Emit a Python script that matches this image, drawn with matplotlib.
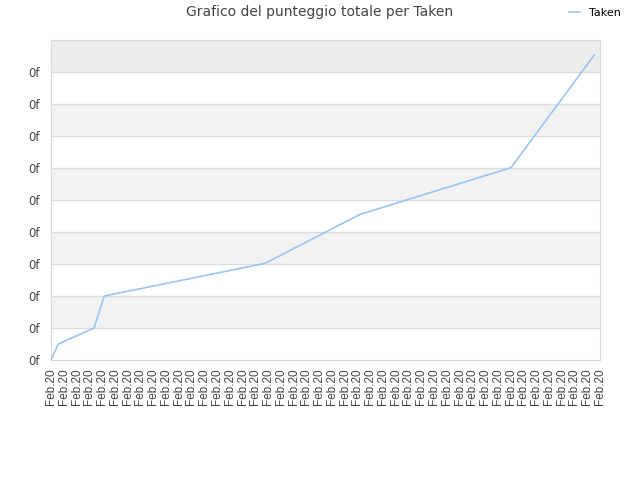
import matplotlib
matplotlib.use("Agg")
import matplotlib.pyplot as plt

# cumulative score over time (x in tick units, y in grid units)
times = [0, 0.57, 3.37, 4.17, 16.76, 24.2, 36.03, 42.55]
scores = [0, 0.5, 1.0, 2.0, 3.02, 4.55, 6.01, 9.53]
tick_labels = ["Feb.20"] * 44
y_labels = ["0f"] * 10

fig = plt.figure(figsize=(6.4, 4.8), dpi=100)
ax = fig.add_axes([51 / 640, 1 - 360 / 480, 549 / 640, 320 / 480])

# alternating background bands
for i in range(10):
    if i == 9:
        color = "#ededed"
    elif i % 2 == 1:
        color = "#f2f2f2"
    else:
        color = "white"
    ax.axhspan(i, i + 1, color=color, zorder=0, lw=0)
for i in range(1, 10):
    ax.axhline(i, color="#dcdcdc", lw=1, zorder=1)

ax.plot(times, scores, color="#99c5f2", lw=1.2, zorder=3, label="Taken")

ax.set_xlim(0, 43)
ax.set_ylim(0, 10)
ax.set_xticks(range(len(tick_labels)))
ax.set_xticklabels(tick_labels, rotation=90, fontsize=8.5, color="#444444",
                   family="Liberation Sans")
ax.set_yticks(range(len(y_labels)))
ax.set_yticklabels(y_labels, fontsize=8.5, color="#444444")
ax.tick_params(length=0, pad=8)
ax.tick_params(axis="x", pad=6)
for s in ax.spines.values():
    s.set_color("#d9d9d9")

fig.suptitle("Grafico del punteggio totale per Taken", y=0.99, fontsize=10,
             color="#444444")
fig.legend(loc="upper right", bbox_to_anchor=(0.985, 1.005), frameon=False,
           fontsize=8, handlelength=1.0, handletextpad=0.8)

fig.savefig("out.png", dpi=100)
